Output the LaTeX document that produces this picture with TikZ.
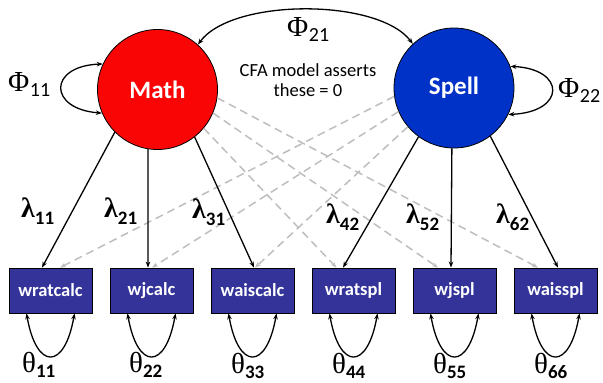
\documentclass[tikz,border=0pt]{standalone}
\usepackage{fontspec}
\setmainfont{Carlito}
\newfontfamily\grk{Liberation Serif}
\usetikzlibrary{arrows.meta}
\definecolor{mathred}{RGB}{250,5,5}
\definecolor{spellblue}{RGB}{0,50,200}
\definecolor{boxblue}{RGB}{51,51,153}
\definecolor{zerogray}{RGB}{190,190,190}
\newcommand{\phil}[1]{{\grk\fontsize{29}{29}\selectfont Φ}\kern0.5pt\raisebox{-5pt}{\fontsize{20}{20}\selectfont #1}}
\newcommand{\laml}[1]{{\grk\bfseries\fontsize{28}{28}\selectfont λ}\raisebox{-7pt}{\fontsize{19}{19}\selectfont\bfseries #1}}
\newcommand{\thel}[1]{{\grk\fontsize{29}{29}\selectfont θ}\raisebox{-5pt}{\fontsize{19}{19}\selectfont\bfseries #1}}
\tikzset{
  latent/.style={circle, draw=black, line width=0.8pt, minimum size=120pt, inner sep=0pt,
    text=white, font=\fontsize{25}{28}\selectfont\bfseries},
  obs/.style={rectangle, draw=black, line width=0.8pt, fill=boxblue, minimum width=83pt,
    minimum height=45pt, inner sep=0pt, text=white, font=\fontsize{18.5}{21}\selectfont\bfseries},
  tip/.tip={Stealth[length=6pt,width=4.5pt]},
  load/.style={line width=1.3pt, -tip},
  zero/.style={line width=1.5pt, draw=zerogray, dash pattern=on 8pt off 5pt, -tip},
  cov/.style={line width=1.3pt, tip-tip},
  lab/.style={inner sep=0pt, anchor=base west},
}
\begin{document}
\begin{tikzpicture}[x=1pt, y=-1pt]
\useasboundingbox (0,0) rectangle (603,383);

\node[latent, fill=mathred] (math) at (157.5,89.5) {Math};
\node[latent, fill=spellblue] (spell) at (454,88) {Spell};

\node[obs] (b1) at (50.5,290.5) {wratcalc};
\node[obs] (b2) at (151.5,290.5) {wjcalc};
\node[obs] (b3) at (252.5,290.5) {waiscalc};
\node[obs] (b4) at (353.5,290.5) {wratspl};
\node[obs] (b5) at (454.5,290.5) {wjspl};
\node[obs] (b6) at (555.5,290.5) {waisspl};

\node[align=center, inner sep=0pt, font=\fontsize{18.5}{20}\selectfont] (note) at (308,80) {CFA model asserts\\these = 0};

% cross loadings fixed to zero
\draw[zero] (math.-40) -- ([xshift=-17pt]b4.north);
\draw[zero] (math.-23) -- ([xshift=-16.5pt]b5.north);
\draw[zero] (math.-8) -- ([xshift=-17.5pt]b6.north);
\draw[zero] (spell.-140) -- ([xshift=2.5pt]b3.north);
\draw[zero] (spell.-157) -- ([xshift=0.5pt]b2.north);
\draw[zero] (spell.-172) -- ([xshift=9.5pt]b1.north);

% loadings
\draw[load] (math.-135.7) -- ([xshift=-8.5pt]b1.north);
\draw[load] (math.-99) -- ([xshift=-3.5pt]b2.north);
\draw[load] (math.-52.6) -- ([xshift=1.5pt]b3.north);
\draw[load] (spell.-126) -- ([xshift=-10.5pt]b4.north);
\draw[load] (spell.-92) -- ([xshift=-3.5pt]b5.north);
\draw[load] (spell.-53) -- ([xshift=2.5pt]b6.north);

% covariances
\draw[cov] (math.48) .. controls (232,-2) and (378,-2) .. (spell.133);
\draw[cov] (math.155) .. controls (48,66) and (48,109) .. (math.203);
\draw[cov] (spell.21) .. controls (566,69) and (566,112) .. (spell.-26);

% error variances
\foreach \b in {b1,b2,b3,b4,b5,b6}{
  \draw[cov] ([xshift=-24pt]\b.south) .. controls +(10,57) and +(-10,57) .. ([xshift=24pt]\b.south);
}

% labels
\node[lab] (p11) at (8,91) {\phil{11}};
\node[lab] (p21) at (287,36) {\phil{21}};
\node[lab] (p22) at (558,97) {\phil{22}};

\node[lab] (l11) at (21,217) {\laml{11}};
\node[lab] (l21) at (104,217) {\laml{21}};
\node[lab] (l31) at (192,218) {\laml{31}};
\node[lab] (l42) at (326,223) {\laml{42}};
\node[lab] (l52) at (406,223) {\laml{52}};
\node[lab] (l62) at (496,223) {\laml{62}};

\node[lab] (t11) at (22,372) {\thel{11}};
\node[lab] (t22) at (129,372) {\thel{22}};
\node[lab] (t33) at (231,373) {\thel{33}};
\node[lab] (t44) at (332,373) {\thel{44}};
\node[lab] (t55) at (433,373) {\thel{55}};
\node[lab] (t66) at (534,373) {\thel{66}};
\end{tikzpicture}
\end{document}
